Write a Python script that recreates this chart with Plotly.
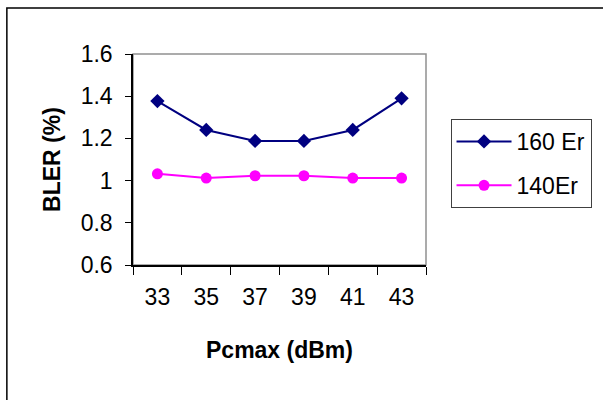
import plotly.graph_objects as go

categories = ["33", "35", "37", "39", "41", "43"]
er160 = [1.377, 1.240, 1.188, 1.188, 1.240, 1.390]
er140 = [1.032, 1.012, 1.023, 1.023, 1.012, 1.012]
y_ticks = [0.6, 0.8, 1.0, 1.2, 1.4, 1.6]

FONT = "Liberation Sans, Arial, sans-serif"

fig = go.Figure()
fig.add_trace(go.Scatter(
    x=categories, y=er160, name="160 Er", mode="lines+markers",
    line=dict(color="#000080", width=2),
    marker=dict(symbol="diamond", size=11, color="#000080"),
    legendgroup="a",
))
fig.add_trace(go.Scatter(
    x=categories, y=er140, name="140Er", mode="lines+markers",
    line=dict(color="#FF00FF", width=2),
    marker=dict(symbol="circle", size=11, color="#FF00FF"),
    legendgroup="b",
))

fig.update_layout(
    width=603, height=400,
    margin=dict(l=133, r=175, t=54, b=135),
    paper_bgcolor="white", plot_bgcolor="white",
    font=dict(family=FONT, size=23, color="black"),
    showlegend=True,
    legend=dict(
        x=1.0837, xanchor="left", y=0.692, yanchor="top",
        bordercolor="#404040", borderwidth=1, bgcolor="white",
        font=dict(size=23), itemwidth=55, tracegroupgap=11,
    ),
    xaxis=dict(
        type="category", range=[-0.5, 5.5],
        showline=True, linecolor="black", linewidth=1.5,
        ticks="outside", tickson="boundaries", ticklen=8, tickcolor="black",
        showgrid=False, zeroline=False, ticklabelstandoff=11,
        title=dict(text="<b>Pcmax (dBm)</b>", font=dict(size=23), standoff=33),
    ),
    yaxis=dict(
        range=[0.6, 1.6], tickvals=y_ticks,
        showline=True, linecolor="black", linewidth=1.5,
        ticks="outside", ticklen=6, tickcolor="black",
        showgrid=False, zeroline=False, ticklabelstandoff=8,
        title=dict(text="<b>BLER (%)</b>", font=dict(size=23), standoff=14),
    ),
    shapes=[
        dict(type="rect", xref="paper", yref="paper", x0=0, x1=1, y0=0, y1=1,
             line=dict(color="#909090", width=1.5), layer="below"),
        dict(type="rect", xref="paper", yref="paper",
             x0=(6 - 133) / 295, x1=(610 - 133) / 295,
             y0=(265 - 410) / 211, y1=(265 - 8) / 211,
             line=dict(color="black", width=1.5), layer="below"),
    ],
)

fig.write_html("out.html")
